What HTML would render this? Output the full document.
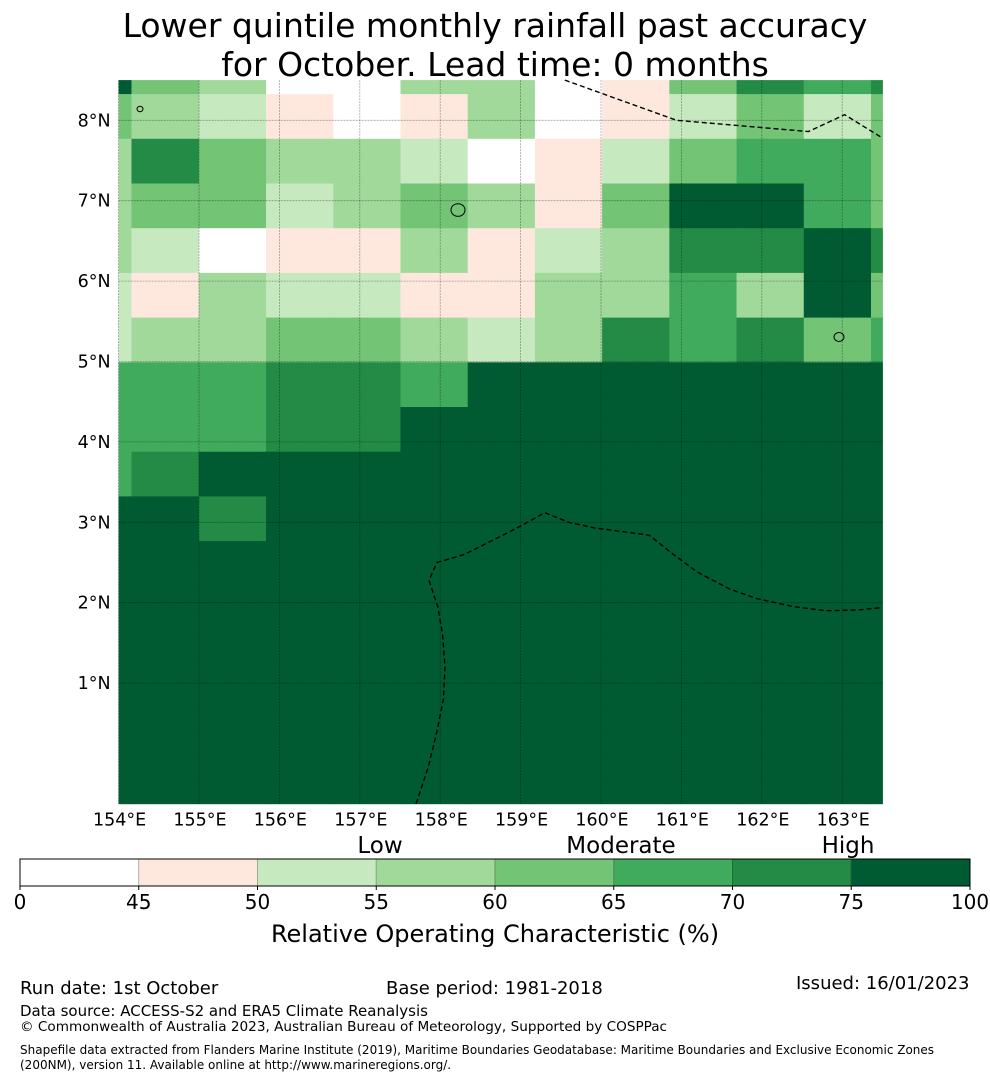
<!DOCTYPE html>
<html><head><meta charset="utf-8">
<style>
body{margin:0;width:990px;height:1080px;background:#fff;font-family:"DejaVu Sans","Liberation Sans",sans-serif;overflow:hidden}
svg{position:absolute;left:0;top:0}
</style></head>
<body>
<svg id="chart" width="990" height="1080" font-family="DejaVu Sans, Liberation Sans, sans-serif">
<text x="495" y="37" font-size="33" text-anchor="middle">Lower quintile monthly rainfall past accuracy</text>
<text x="495" y="76" font-size="33" text-anchor="middle">for October. Lead time: 0 months</text>
<g id="map"></g>
<g id="cbar"></g>
<text x="380" y="853" font-size="23" text-anchor="middle">Low</text>
<text x="621" y="853" font-size="23" text-anchor="middle">Moderate</text>
<text x="848" y="853" font-size="23" text-anchor="middle">High</text>
<text x="495" y="942" font-size="24" text-anchor="middle">Relative Operating Characteristic (%)</text>
<text x="20" y="994" font-size="18">Run date: 1st October</text>
<text x="386" y="994" font-size="18">Base period: 1981-2018</text>
<text x="796" y="989" font-size="18">Issued: 16/01/2023</text>
<text x="20" y="1016" font-size="15">Data source: ACCESS-S2 and ERA5 Climate Reanalysis</text>
<text x="20" y="1031" font-size="13.6">© Commonwealth of Australia 2023, Australian Bureau of Meteorology, Supported by COSPPac</text>
<text x="20" y="1054" font-size="12">Shapefile data extracted from Flanders Marine Institute (2019), Maritime Boundaries Geodatabase: Maritime Boundaries and Exclusive Economic Zones</text>
<text x="20" y="1069" font-size="12">(200NM), version 11. Available online at http://www.marineregions.org/.</text>
</svg>
<script>
const levelColors=["#ffffff","#fee8dd","#c7e9c0","#a1d99b","#74c476","#41ab5d","#238b45","#005a32"];
const levelBounds=[0,45,50,55,60,65,70,75,100];
const lonTicks=[154,155,156,157,158,159,160,161,162,163];
const latTicks=[1,2,3,4,5,6,7,8];
// grid cell edges (degrees)
const lonEdges=[154,154.16,154.998,155.834,156.67,157.506,158.342,159.178,160.014,160.85,161.686,162.522,163.358,163.5];
const latEdges=[8.5,8.326,7.77,7.214,6.658,6.102,5.546,4.99,4.434,3.878,3.322,2.766,-0.5];
// category level per cell, rows top->bottom
const cellLevels=[
[7,4,3,0,0,3,3,0,1,4,6,5,6],
[4,3,2,1,0,1,3,0,1,2,4,2,4],
[3,6,4,3,3,2,0,1,2,4,5,5,4],
[3,4,4,2,3,4,3,1,4,7,7,5,4],
[3,2,0,1,1,3,1,2,3,6,6,7,6],
[2,1,3,2,2,1,1,3,3,5,3,7,4],
[2,3,3,4,4,3,2,3,6,5,6,4,5],
[5,5,5,6,6,5,7,7,7,7,7,7,7],
[5,5,5,6,6,7,7,7,7,7,7,7,7],
[5,6,7,7,7,7,7,7,7,7,7,7,7],
[7,7,6,7,7,7,7,7,7,7,7,7,7],
[7,7,7,7,7,7,7,7,7,7,7,7,7]];
const eezNorth=[[159.55,8.5],[160.94,8.0],[162.58,7.86],[163.03,8.07],[163.5,7.78]];
const eezSouth=[[157.7,-0.5],[157.85,-0.05],[157.96,0.4],[158.04,0.8],[158.06,1.2],[158.03,1.6],[157.97,1.95],[157.86,2.28],[157.96,2.5],[158.3,2.6],[158.8,2.85],[159.05,2.98],[159.3,3.12],[159.6,3.0],[159.92,2.93],[160.3,2.88],[160.6,2.84],[160.9,2.6],[161.2,2.38],[161.6,2.17],[161.94,2.05],[162.4,1.95],[162.8,1.9],[163.2,1.91],[163.5,1.94]];
const NS="http://www.w3.org/2000/svg";
const x0=118.6,pxDeg=80.4,y8=120.3;
function X(lon){return x0+(lon-154)*pxDeg;}
function Y(lat){return y8+(8-lat)*pxDeg;}
function mk(tag,attrs,parent){const e=document.createElementNS(NS,tag);for(const k in attrs)e.setAttribute(k,attrs[k]);parent.appendChild(e);return e;}
const map=document.getElementById('map');
cellLevels.forEach((row,r)=>row.forEach((lv,c)=>{
 const e=mk('rect',{x:X(lonEdges[c]),y:Y(latEdges[r]),width:X(lonEdges[c+1])-X(lonEdges[c])+0.5,height:Y(latEdges[r+1])-Y(latEdges[r])+0.5,fill:levelColors[lv]},map);
 
 
}));
const L=X(154),R=X(163.5),T=Y(8.5),B=Y(-0.5);
lonTicks.forEach(v=>{
 const l=mk('line',{x1:X(v),x2:X(v),y1:T,y2:B,stroke:'#000','stroke-opacity':0.35,'stroke-width':0.8,'stroke-dasharray':'2,1'},map);
 
 
 const t=mk('text',{x:X(v)+1,y:B+22,'font-size':17.5,'text-anchor':'middle'},map);t.textContent=v+'°E';
 
 
});
latTicks.forEach(v=>{
 const l=mk('line',{x1:L,x2:R,y1:Y(v),y2:Y(v),stroke:'#000','stroke-opacity':0.35,'stroke-width':0.8,'stroke-dasharray':'2,1'},map);
 
 
 const t=mk('text',{x:L-8,y:Y(v)+6,'font-size':17.5,'text-anchor':'end'},map);t.textContent=v+'°N';
 
 
});
[eezNorth,eezSouth].forEach(p=>{
 const e=mk('polyline',{points:p.map(q=>X(q[0])+','+Y(q[1])).join(' '),fill:'none',stroke:'#000','stroke-width':1.4,'stroke-dasharray':'5,3'},map);
 
 
});
[[458,210,7],[140,109,3],[839,337,5]].forEach(i=>{
 const e=mk('ellipse',{cx:i[0],cy:i[1],rx:i[2],ry:i[2]*0.9,fill:'none',stroke:'#000','stroke-width':1},map);
 
 
});
const cb=document.getElementById('cbar');
const cbL=20,cbR=970,cbT=859,cbH=27,n=levelColors.length,segW=(cbR-cbL)/n;
levelColors.forEach((c,i)=>{
 const e=mk('rect',{x:cbL+i*segW,y:cbT,width:segW,height:cbH,fill:c,stroke:'rgba(0,0,0,0.2)','stroke-width':1},cb);
 
 
});
mk('rect',{x:cbL,y:cbT,width:cbR-cbL,height:cbH,fill:'none',stroke:'#000','stroke-width':1},cb);
levelBounds.forEach((v,i)=>{
 mk('line',{x1:cbL+i*segW,x2:cbL+i*segW,y1:cbT+cbH,y2:cbT+cbH+4,stroke:'#000'},cb);
 const t=mk('text',{x:cbL+i*segW,y:909,'font-size':20,'text-anchor':'middle'},cb);t.textContent=v;
 
 
});
</script>
</body></html>
